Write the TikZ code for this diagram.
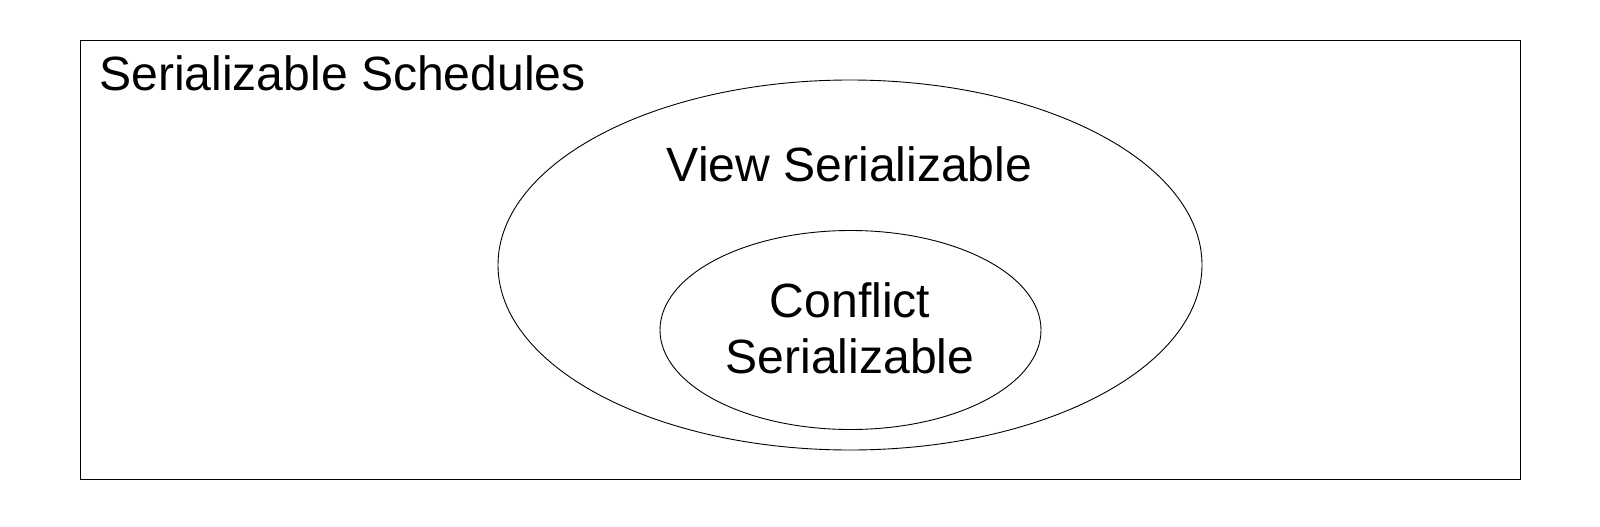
\documentclass[tikz,border=0pt]{standalone}
\usepackage{fontspec}
\setmainfont{Liberation Sans}
\usetikzlibrary{shapes.geometric}
\begin{document}
\begin{tikzpicture}[x=1pt,y=-1pt,
  lbl/.style={inner sep=0pt,font=\fontsize{48.1}{57}\selectfont},
  ell/.style={draw,line width=0.9pt}]
\useasboundingbox (0,0) rectangle (1600,527);
\node[draw,line width=0.9pt,minimum width=1440pt,minimum height=439pt,inner sep=0pt] (outer) at (800.5,260.2) {};
\draw[ell] (850,265) ellipse [x radius=352, y radius=185];
\node (vs) at (850,265) {};
\draw[ell] (850.5,330) ellipse [x radius=190.5, y radius=99.5];
\node (cs) at (850.5,330) {};
\node[lbl,anchor=base west] (t1) at (99,90.8) {Serializable Schedules};
\node[lbl,anchor=base] (t2) at (849.5,181.8) {View Serializable};
\node[lbl,anchor=base] (t3) at (850,317.8) {Conflict};
\node[lbl,anchor=base] (t4) at (850,373.5) {Serializable};
\end{tikzpicture}
\end{document}
